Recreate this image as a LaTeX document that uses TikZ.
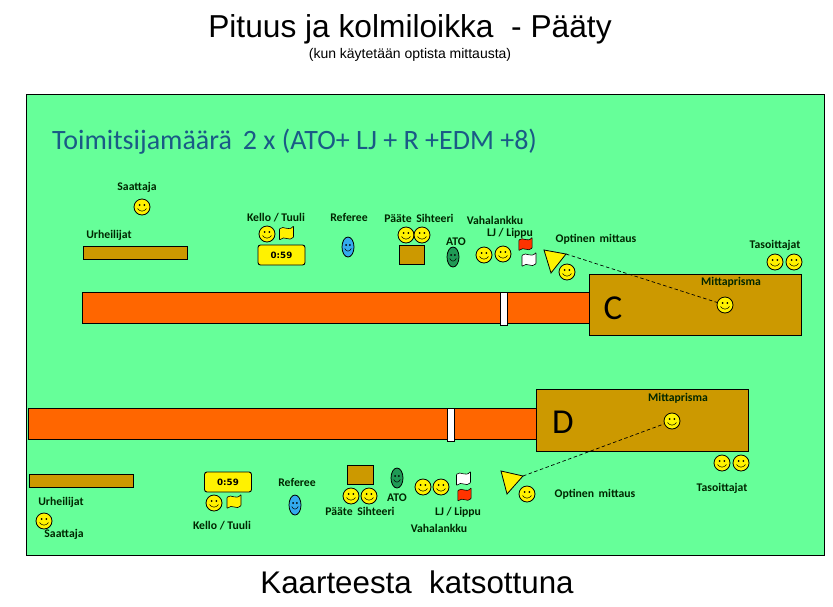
\documentclass[tikz,border=0pt]{standalone}
\usepackage{fontspec}
\setmainfont{Liberation Sans}
\newfontfamily\calibrifont{Carlito}
\newfontfamily\timerfont{DejaVu Sans}
\usetikzlibrary{shapes.geometric}
\definecolor{fieldgreen}{HTML}{66FF99}
\definecolor{pitbrown}{HTML}{CC9900}
\definecolor{runorange}{HTML}{FF6600}
\definecolor{headblue}{HTML}{1A5A86}
\definecolor{flagred}{HTML}{FF3300}
\definecolor{refblue}{HTML}{33AAEE}
\definecolor{atogreen}{HTML}{1F9A55}
\tikzset{
  face/.style 2 args={draw,line width=0.8pt,fill=#1,inner sep=0pt,path picture={
    \fill[black] ([xshift=-#2*0.55pt,yshift=2pt]path picture bounding box.center) circle (1pt);
    \fill[black] ([xshift=#2*0.55pt,yshift=2pt]path picture bounding box.center) circle (1pt);
    \draw[black,line width=0.5pt] ([xshift=-#2*1pt,yshift=-1.5pt]path picture bounding box.center) .. controls ([xshift=-#2*0.45pt,yshift=-5pt]path picture bounding box.center) and ([xshift=#2*0.45pt,yshift=-5pt]path picture bounding box.center) .. ([xshift=#2*1pt,yshift=-1.5pt]path picture bounding box.center);}},
  smiley/.style={face={yellow}{4.5},circle,minimum size=16pt},
  oval/.style={face={#1}{3.3},ellipse,minimum width=12pt,minimum height=20pt},
  lbl/.style={font=\calibrifont\bfseries\fontsize{11.7}{13}\selectfont,inner sep=0pt,yshift=-1pt,text=black!85!green},
  boxpart/.style={draw,line width=1pt},
  timer/.style={draw,line width=0.9pt,fill=yellow,rounded corners=2.5pt,minimum width=47pt,minimum height=20pt,inner sep=0pt,font=\timerfont\bfseries\fontsize{8.7}{12}\selectfont},
  pics/flag/.style={code={\draw[fill=#1,line width=0.6pt,rounded corners=0.6pt] (-7,-4) .. controls (-3,-8) and (2,-1) .. (7,-7) -- (7,4) .. controls (3,9) and (-2,2) .. (-7,7) -- cycle;}}
}
\begin{document}
\begin{tikzpicture}[x=1pt,y=-1pt]
\useasboundingbox (0,0) rectangle (833,606);
% titles
\node[inner sep=0pt,font=\fontsize{31.7}{36}\selectfont] (title) at (410,29) {Pituus ja kolmiloikka\ \ - Pääty};
\node[inner sep=0pt,font=\fontsize{14}{16}\selectfont] (subtitle) at (410,55) {(kun käytetään optista mittausta)};
\node[inner sep=0pt,font=\fontsize{31.3}{36}\selectfont] (bottomtitle) at (417,582) {Kaarteesta\ \ katsottuna};
% field
\draw[boxpart,fill=fieldgreen] (26,94.5) rectangle (824,555.5);
\node[inner sep=0pt,anchor=west,text=headblue,font=\calibrifont\fontsize{28}{30}\selectfont] (count) at (52,141.5) {Toimitsijamäärä\, 2 x (ATO+ LJ + R +EDM +8)};
% upper runway C
\draw[boxpart,fill=runorange] (82,292) rectangle (590,323);
\draw[boxpart,fill=white] (500.5,292) rectangle (507.5,325);
\draw[boxpart,fill=pitbrown] (589,274) rectangle (801.5,335);
\node[inner sep=0pt,font=\calibrifont\fontsize{35}{38}\selectfont] (pitC) at (613,308) {C};
\draw[boxpart,fill=pitbrown] (83,246) rectangle (187,259);
\node[lbl] (urheilijatC) at (109,234) {Urheilijat};
\node[lbl] (saattajaC) at (137,186) {Saattaja};
\node[smiley] (saattajafaceC) at (142,207) {};
\node[lbl] (kelloC) at (276,217) {Kello / Tuuli};
\node[smiley] (kellofaceC) at (267,234) {};
\pic at (286.5,233) {flag=yellow};
\node[timer] (timerC) at (281.5,255) {0:59};
\node[lbl] (refereeC) at (349,216) {Referee};
\node[oval=refblue] (refereefaceC) at (348,247) {};
\node[lbl] (paateC) at (419,217) {Pääte\, Sihteeri};
\node[smiley] (paatefaceC) at (406,235) {};
\node[smiley] (sihteerifaceC) at (422,235) {};
\draw[boxpart,fill=pitbrown] (399,245) rectangle (424,264);
\node[lbl] (atoC) at (456,241) {ATO};
\node[oval=atogreen] (atofaceC) at (453,257) {};
\node[lbl] (vahaC) at (495,219) {Vahalankku};
\node[lbl] (ljC) at (510,232) {LJ / Lippu};
\node[smiley] (vahafaceC) at (484,255) {};
\node[smiley] (ljfaceC) at (503,254) {};
\pic[scale=0.95] at (525.5,244) {flag=flagred};
\pic at (529,259.5) {flag=white};
\node[lbl] (optC) at (596,238) {Optinen\, mittaus};
\coordinate (triC) at (566,254);
\draw[fill=yellow,line width=0.8pt] (544,250) -- (triC) -- (551,273) -- cycle;
\node[smiley] (optfaceC) at (567,272) {};
\node[lbl] (prismaC) at (731,281) {Mittaprisma};
\node[smiley] (prismafaceC) at (725,305) {};
\draw[line width=0.7pt,dash pattern=on 3.5pt off 2.5pt] (triC) -- (prismafaceC);
\node[lbl] (tasoC) at (775,244) {Tasoittajat};
\node[smiley] (taso1C) at (775,262) {};
\node[smiley] (taso2C) at (794,262) {};
% lower runway D
\draw[boxpart,fill=runorange] (28,408) rectangle (537,439);
\draw[boxpart,fill=white] (447.5,408) rectangle (454.5,441);
\draw[boxpart,fill=pitbrown] (536,389) rectangle (748.5,451);
\node[inner sep=0pt,font=\calibrifont\fontsize{35}{38}\selectfont] (pitD) at (563,422) {D};
\draw[boxpart,fill=pitbrown] (29,474) rectangle (133.5,487);
\node[lbl] (urheilijatD) at (61,501) {Urheilijat};
\node[smiley] (saattajafaceD) at (44,521) {};
\node[lbl] (saattajaD) at (64,533) {Saattaja};
\node[timer] (timerD) at (228,482) {0:59};
\node[smiley] (kellofaceD) at (214,503) {};
\pic at (234,501.5) {flag=yellow};
\node[lbl] (kelloD) at (222,525) {Kello / Tuuli};
\node[lbl] (refereeD) at (297,481) {Referee};
\node[oval=refblue] (refereefaceD) at (295,505) {};
\draw[boxpart,fill=pitbrown] (347,465) rectangle (373,484);
\node[smiley] (paatefaceD) at (351,496) {};
\node[smiley] (sihteerifaceD) at (369,496) {};
\node[lbl] (paateD) at (360,510) {Pääte\, Sihteeri};
\node[oval=atogreen] (atofaceD) at (397,478) {};
\node[lbl] (atoD) at (397,497) {ATO};
\node[smiley] (vahafaceD) at (423,487) {};
\node[smiley] (ljfaceD) at (441,487) {};
\pic at (463.5,478.5) {flag=white};
\pic[scale=0.95] at (464.5,494.5) {flag=flagred};
\node[lbl] (ljD) at (458,511) {LJ / Lippu};
\node[lbl] (vahaD) at (439,527) {Vahalankku};
\coordinate (triD) at (523,476);
\draw[fill=yellow,line width=0.8pt] (501,471) -- (triD) -- (507,494) -- cycle;
\node[smiley] (optfaceD) at (527,494) {};
\node[lbl] (optD) at (595,493) {Optinen\, mittaus};
\node[lbl] (prismaD) at (678,397) {Mittaprisma};
\node[smiley] (prismafaceD) at (672,421) {};
\draw[line width=0.7pt,dash pattern=on 3.5pt off 2.5pt] (triD) -- (prismafaceD);
\node[smiley] (taso1D) at (722,463) {};
\node[smiley] (taso2D) at (741,463) {};
\node[lbl] (tasoD) at (722,487) {Tasoittajat};
\end{tikzpicture}
\end{document}
